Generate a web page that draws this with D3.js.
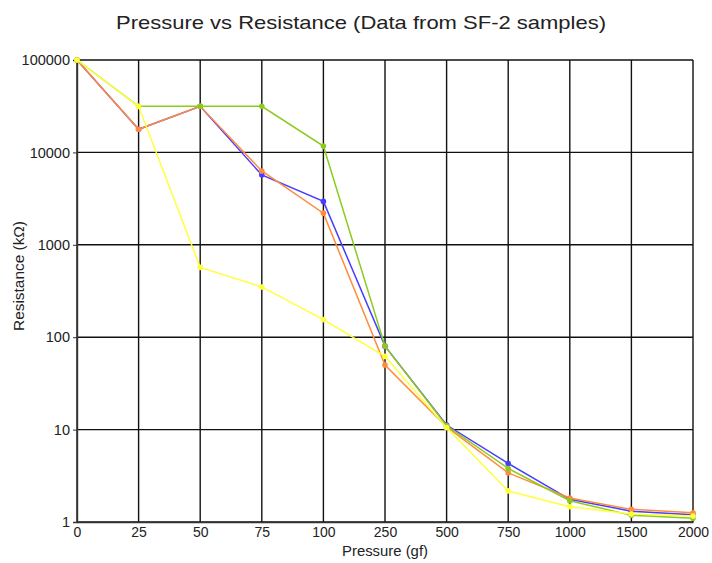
<!DOCTYPE html>
<html>
<head>
<meta charset="utf-8">
<script src="https://cdn.jsdelivr.net/npm/d3@7"></script>
<style>
  html, body { margin: 0; padding: 0; background: #fff; }
  svg text { font-family: "Liberation Sans", Arial, sans-serif; fill: #222; }
</style>
</head>
<body>
<svg id="chart" width="712" height="563"></svg>
<script>
// Pressure steps (gf), plotted as evenly spaced categories
const pressures = ["0", "25", "50", "75", "100", "250", "500", "750", "1000", "1500", "2000"];

// Resistance readings (kΩ) for each SF-2 sample
const sampleBlue   = [100000, 17800, 31500, 5700, 2950, 80, 11.2, 4.3, 1.76, 1.31, 1.2];
const sampleOrange = [100000, 17800, 31500, 6300, 2200, 50, 10.7, 3.4, 1.82, 1.37, 1.26];
const sampleGreen  = [100000, 31500, 31500, 31500, 11700, 80, 11.0, 3.8, 1.7, 1.18, 1.1];
const sampleYellow = [100000, 31500, 570, 350, 155, 62, 10.5, 2.17, 1.46, 1.22, 1.16];

const yTicks = [1, 10, 100, 1000, 10000, 100000];

const seriesList = [
  { values: sampleBlue,   color: "#4a3cff" },
  { values: sampleOrange, color: "#ff8c3c" },
  { values: sampleGreen,  color: "#8ccb1e" },
  { values: sampleYellow, color: "#ffff3c" }
];

const svg = d3.select("#chart");
const margin = { left: 77, right: 19, top: 60, bottom: 41 };
const W = 712, H = 563;

const x = d3.scalePoint()
  .domain(pressures)
  .range([margin.left, W - margin.right]);

const y = d3.scaleLog()
  .domain([1, 100000])
  .range([H - margin.bottom, margin.top]);

// Title
svg.append("text")
  .attr("x", 361).attr("y", 29)
  .attr("text-anchor", "middle")
  .attr("textLength", 490)
  .attr("lengthAdjust", "spacingAndGlyphs")
  .style("font-size", "19px")
  .text("Pressure vs Resistance (Data from SF-2 samples)");

// Grid
const grid = svg.append("g");
grid.selectAll("line.v").data(pressures).join("line")
  .attr("class", "v")
  .attr("x1", d => x(d)).attr("x2", d => x(d))
  .attr("y1", y(100000)).attr("y2", y(1))
  .attr("stroke", "#111").attr("stroke-width", 1.4);
grid.selectAll("line.h").data(yTicks).join("line")
  .attr("class", "h")
  .attr("x1", x("0")).attr("x2", x("2000"))
  .attr("y1", d => y(d)).attr("y2", d => y(d))
  .attr("stroke", "#111").attr("stroke-width", 1.4);

// Y axis
const yAxis = d3.axisLeft(y)
  .tickValues(yTicks)
  .tickFormat(d3.format("d"))
  .tickSize(4)
  .tickPadding(3);
const gy = svg.append("g")
  .attr("transform", `translate(${margin.left},0)`)
  .call(yAxis);
gy.select(".domain").attr("stroke", "#333").attr("stroke-width", 1.4);
gy.selectAll(".tick line").attr("stroke", "#333");
gy.selectAll(".tick text").style("font-size", "14.5px").attr("fill", "#222");

// X axis
const xAxis = d3.axisBottom(x).tickSize(0).tickPadding(5);
const gx = svg.append("g")
  .attr("transform", `translate(0,${H - margin.bottom})`)
  .call(xAxis);
gx.select(".domain").attr("stroke", "#333").attr("stroke-width", 1.4);
gx.selectAll(".tick text").style("font-size", "14px").attr("fill", "#222");

// Axis titles
svg.append("text")
  .attr("x", 385).attr("y", 556)
  .attr("text-anchor", "middle")
  .attr("textLength", 86)
  .attr("lengthAdjust", "spacingAndGlyphs")
  .style("font-size", "14px")
  .text("Pressure (gf)");
svg.append("text")
  .attr("transform", "translate(24,276) rotate(-90)")
  .attr("text-anchor", "middle")
  .attr("textLength", 110)
  .attr("lengthAdjust", "spacingAndGlyphs")
  .style("font-size", "14px")
  .text("Resistance (kΩ)");

// Series lines and markers
const line = d3.line()
  .x((d, i) => x(pressures[i]))
  .y(d => y(d));

seriesList.forEach(s => {
  const g = svg.append("g");
  g.append("path")
    .datum(s.values)
    .attr("d", line)
    .attr("fill", "none")
    .attr("stroke", s.color)
    .attr("stroke-width", 1.5);
  g.selectAll("circle").data(s.values).join("circle")
    .attr("cx", (d, i) => x(pressures[i]))
    .attr("cy", d => y(d))
    .attr("r", 2.8)
    .attr("fill", s.color);
});
</script>
</body>
</html>
